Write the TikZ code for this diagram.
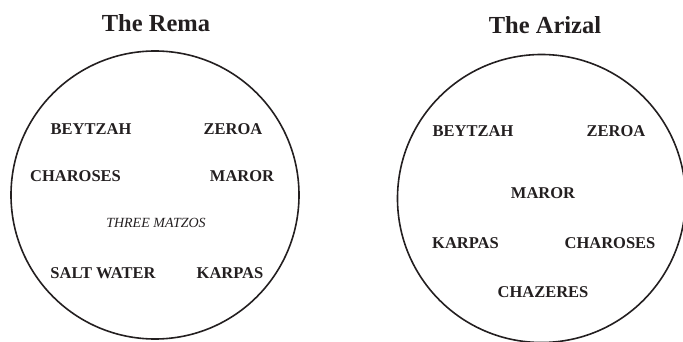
\documentclass[tikz,border=0pt]{standalone}
\usepackage{fontspec}
\setmainfont{Liberation Serif}
\usepackage{tikz}
\definecolor{ink}{HTML}{231F20}

\begin{document}
\begin{tikzpicture}[x=1pt,y=-1pt,
		plate/.style={draw=ink, line width=1.6pt, circle, minimum size=288pt, inner sep=0pt},
		dish/.style={text=ink, font=\fontsize{16.5}{18}\selectfont\bfseries, inner sep=0pt},
		heading/.style={text=ink, font=\fontsize{24.5}{28}\selectfont\bfseries, inner sep=0pt}]
			\useasboundingbox (0,0) rectangle (683,342);
			\node (rema) [plate] at (155,195) {};
			\node (arizal) [plate] at (541.5,198.5) {};
			\node (remaTitle) [heading] at (156,23) {The Rema};
			\node (arizalTitle) [heading] at (545,25) {The Arizal};
			\node (rBeytzah) [dish] at (91,129) {BEYTZAH};
			\node (rZeroa) [dish] at (233,129) {ZEROA};
			\node (rCharoses) [dish] at (75.5,176) {CHAROSES};
			\node (rMaror) [dish] at (242,176) {MAROR};
			\node (rMatzos) [dish, font=\fontsize{14}{16}\selectfont\itshape] at (156,223) {THREE MATZOS};
			\node (rSaltWater) [dish] at (103,273) {SALT WATER};
			\node (rKarpas) [dish] at (230,273) {KARPAS};
			\node (aBeytzah) [dish] at (473,131) {BEYTZAH};
			\node (aZeroa) [dish] at (616,131) {ZEROA};
			\node (aMaror) [dish] at (543,193) {MAROR};
			\node (aKarpas) [dish] at (465.5,243) {KARPAS};
			\node (aCharoses) [dish] at (610,243) {CHAROSES};
			\node (aChazeres) [dish] at (543,292) {CHAZERES};
		\end{tikzpicture}
\end{document}
